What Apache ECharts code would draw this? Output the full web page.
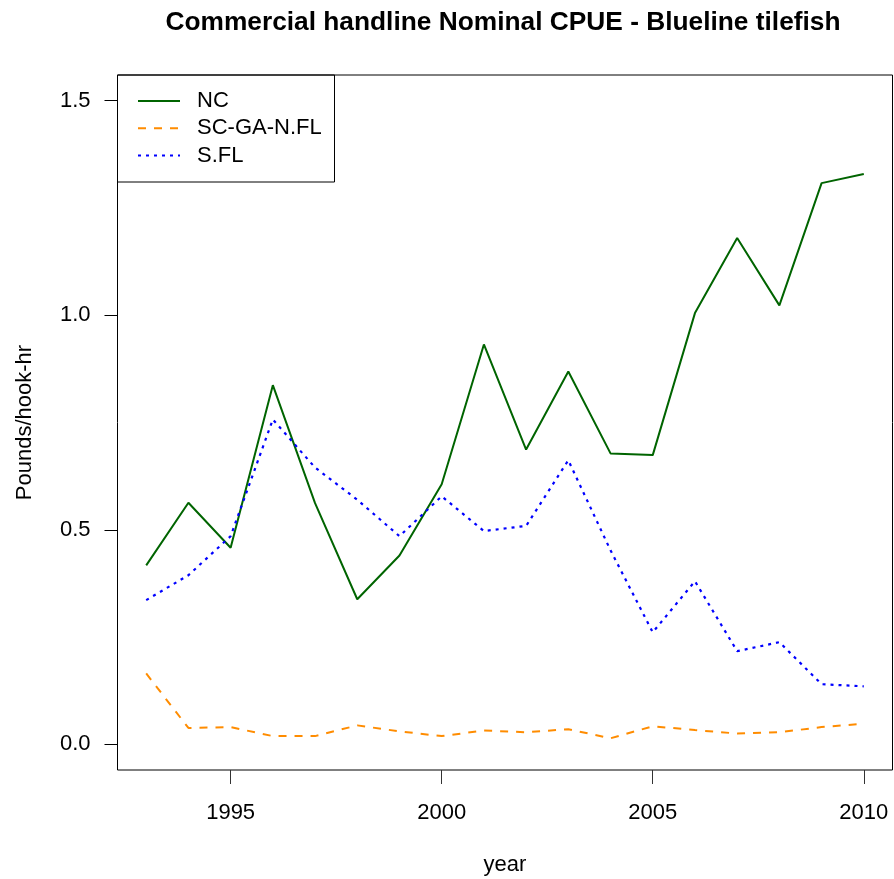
<!DOCTYPE html>
<html>
<head>
<meta charset="utf-8">
<script src="https://cdn.jsdelivr.net/npm/echarts@6/dist/echarts.min.js"></script>
<style>
html,body{margin:0;padding:0;background:#fff;}
#chart{width:894px;height:879px;}
</style>
</head>
<body>
<div id="chart"></div>
<script>
const years = [1993,1994,1995,1996,1997,1998,1999,2000,2001,2002,2003,2004,2005,2006,2007,2008,2009,2010];
const ncValues = [0.417,0.563,0.458,0.837,0.562,0.338,0.440,0.606,0.932,0.687,0.869,0.678,0.674,1.005,1.180,1.023,1.308,1.329];
const scgaValues = [0.165,0.038,0.040,0.019,0.019,0.044,0.030,0.019,0.032,0.028,0.035,0.014,0.042,0.033,0.025,0.028,0.040,0.048];
const sflValues = [0.336,0.394,0.485,0.757,0.645,0.570,0.485,0.578,0.497,0.509,0.662,0.452,0.261,0.380,0.217,0.238,0.140,0.135];
const seriesNames = ['NC','SC-GA-N.FL','S.FL'];
const xTickValues = [1995,2000,2005,2010];
const yTickValues = [0,0.5,1.0,1.5];

const FONT = "'Liberation Sans', Arial, sans-serif";
const pairs = vals => years.map((y,i)=>[y, vals[i]]);

const chart = echarts.init(document.getElementById('chart'), null, {renderer:'canvas'});
chart.setOption({
  animation:false,
  backgroundColor:'#fff',
  title:{
    text:'Commercial handline Nominal CPUE - Blueline tilefish',
    left:503, top:10, padding:0, textAlign:'center',
    textStyle:{fontFamily:FONT, fontSize:26.3, fontWeight:'bold', color:'#000'}
  },
  grid:{left:117.5, right:1.5, top:75, bottom:109, show:true, borderColor:'#000', borderWidth:1,
        backgroundColor:'transparent', containLabel:false, outerBoundsMode:'none'},
  legend:{
    orient:'vertical', left:137, top:90, padding:0,
    itemWidth:42, itemHeight:22, itemGap:5.3,
    data:seriesNames,
    itemStyle:{opacity:0},
    textStyle:{fontFamily:FONT, fontSize:22, color:'#000', lineHeight:22, padding:[0,0,0,12]}
  },
  graphic:[{
    type:'rect', shape:{x:117.5, y:75, width:217, height:107}, z:100,
    style:{fill:null, stroke:'#000', lineWidth:1}
  }],
  xAxis:{
    type:'value', min:1992.32, max:2010.68,
    axisLine:{show:false, onZero:false}, splitLine:{show:false},
    axisTick:{show:true, customValues:xTickValues, length:14, lineStyle:{color:'#333'}},
    axisLabel:{customValues:xTickValues, margin:32, fontFamily:FONT, fontSize:22, color:'#000',
               formatter:v=>String(v)},
    name:'year', nameLocation:'middle', nameGap:84,
    nameTextStyle:{fontFamily:FONT, fontSize:22, color:'#000'}
  },
  yAxis:{
    type:'value', min:-0.06, max:1.56,
    axisLine:{show:false, onZero:false}, splitLine:{show:false},
    axisTick:{show:true, customValues:yTickValues, length:13, lineStyle:{color:'#000'}},
    axisLabel:{customValues:yTickValues, margin:27, fontFamily:FONT, fontSize:22, color:'#000',
               formatter:v=>Number(v).toFixed(1)},
    name:'Pounds/hook-hr', nameLocation:'middle', nameGap:82, nameRotate:90,
    nameTextStyle:{fontFamily:FONT, fontSize:22, color:'#000'}
  },
  series:[
    {name:seriesNames[0], type:'line', data:pairs(ncValues), symbol:'none',
     lineStyle:{color:'#006400', width:2, type:'solid'}, itemStyle:{color:'#006400'}},
    {name:seriesNames[1], type:'line', data:pairs(scgaValues), symbol:'none',
     lineStyle:{color:'#FF8C00', width:2, type:[8,8], cap:'butt'}, itemStyle:{color:'#FF8C00'}},
    {name:seriesNames[2], type:'line', data:pairs(sflValues), symbol:'none',
     lineStyle:{color:'#0000FF', width:2.2, type:[3,5], cap:'butt'}, itemStyle:{color:'#0000FF'}}
  ]
});
</script>
</body>
</html>
